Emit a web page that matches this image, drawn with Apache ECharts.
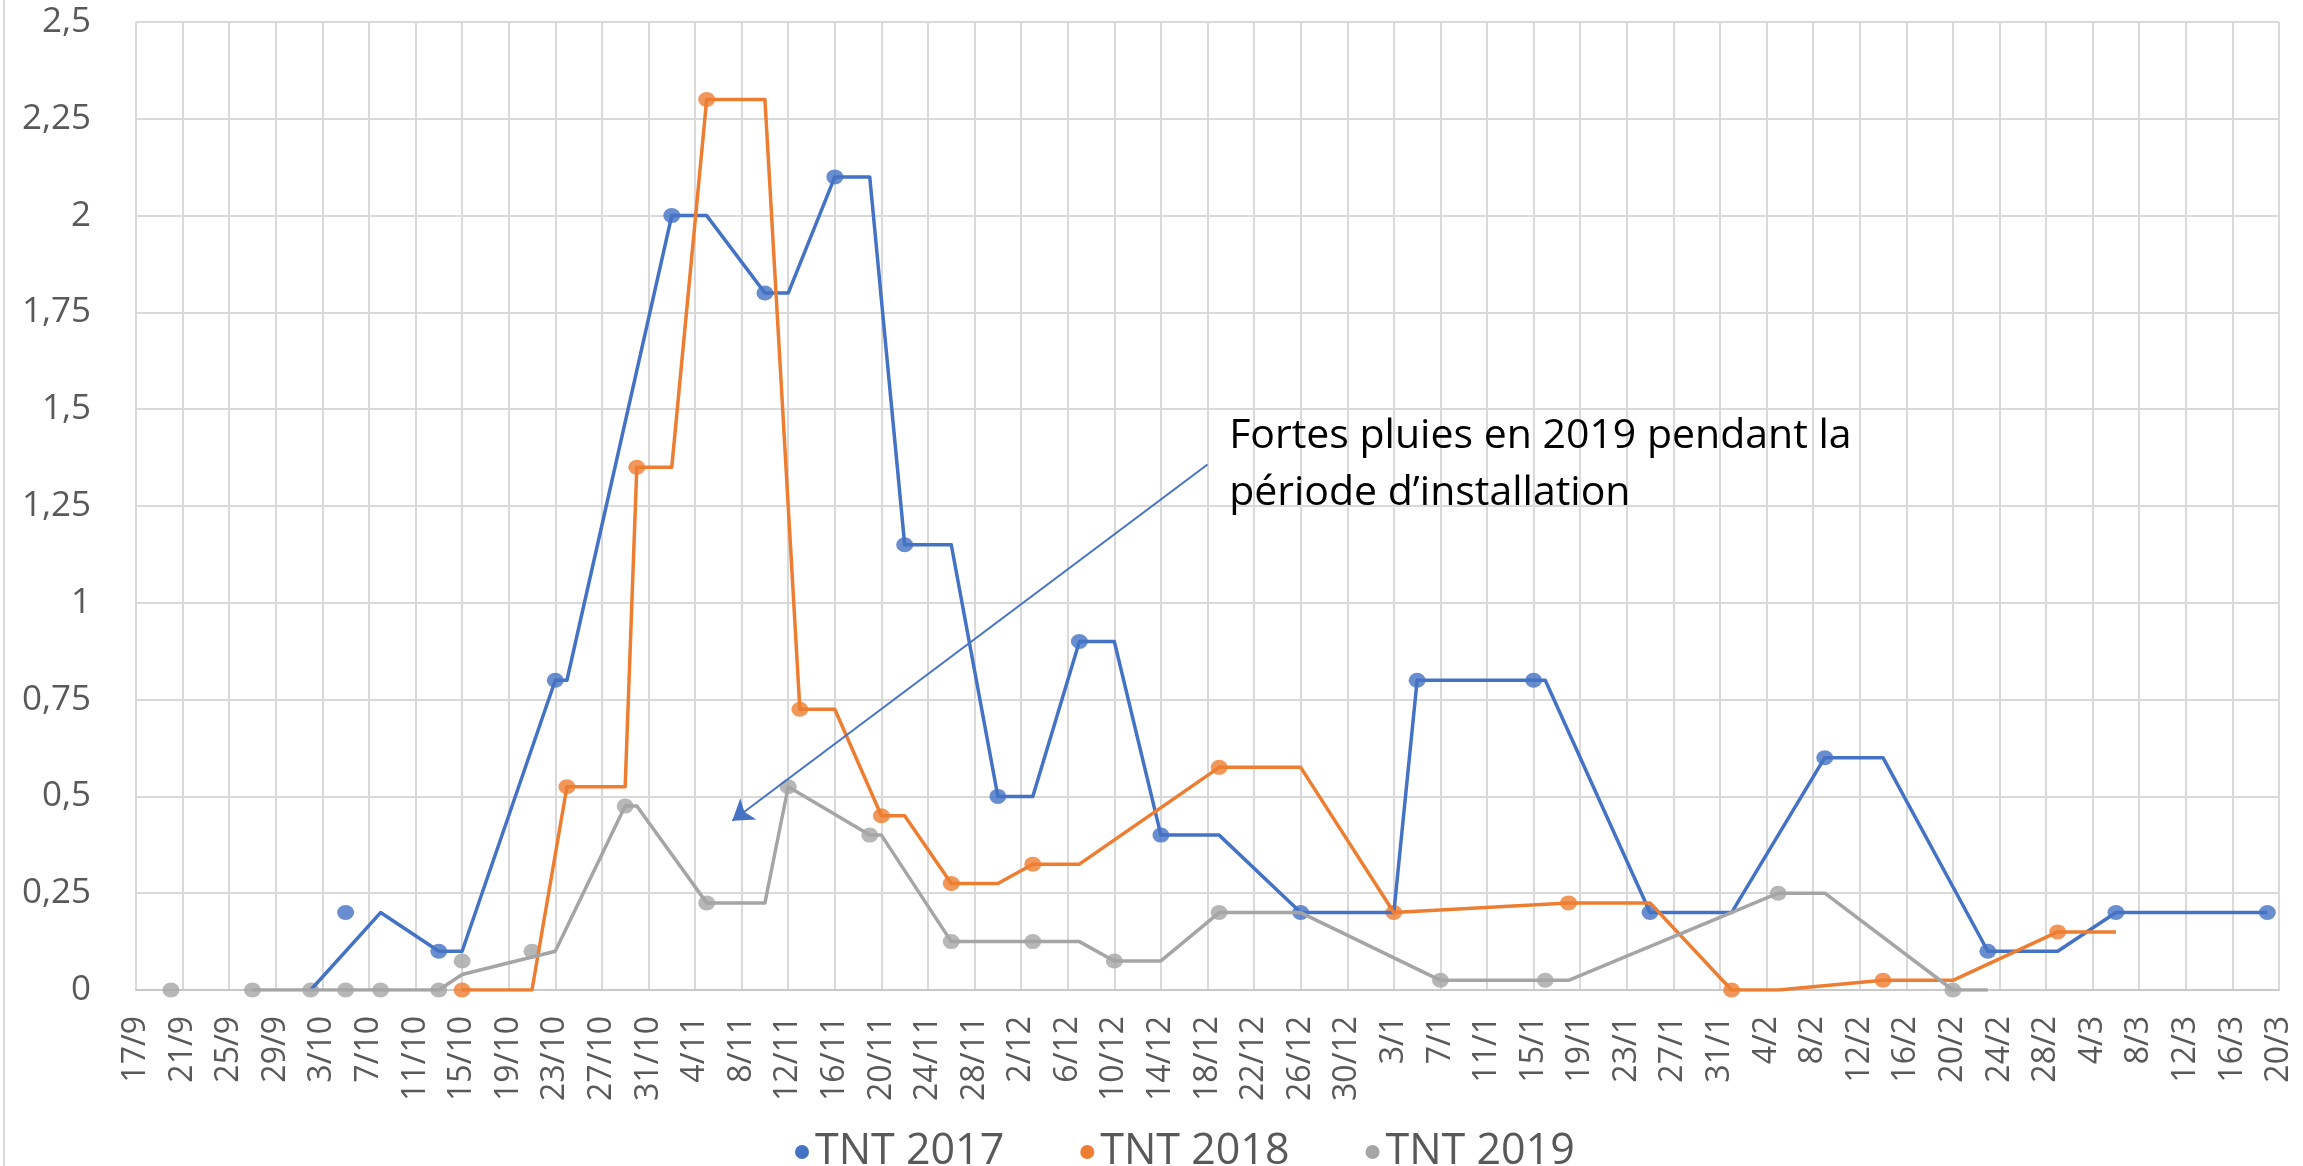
<!DOCTYPE html>
<html>
<head>
<meta charset="utf-8">
<script src="https://cdn.jsdelivr.net/npm/echarts@6/dist/echarts.min.js"></script>
<style>
  html, body { margin: 0; padding: 0; background: #fff; }
  #chart { width: 2303px; height: 1166px; }
</style>
</head>
<body>
<div id="chart"></div>
<script>
// tick labels of the date axis, every 4 days from 17/9 to 20/3
const tickLabels = [
  "17/9", "21/9", "25/9", "29/9", "3/10", "7/10", "11/10", "15/10", "19/10", "23/10",
  "27/10", "31/10", "4/11", "8/11", "12/11", "16/11", "20/11", "24/11", "28/11", "2/12",
  "6/12", "10/12", "14/12", "18/12", "22/12", "26/12", "30/12", "3/1", "7/1", "11/1",
  "15/1", "19/1", "23/1", "27/1", "31/1", "4/2", "8/2", "12/2", "16/2", "20/2",
  "24/2", "28/2", "4/3", "8/3", "12/3", "16/3", "20/3",
];

const seriesNames = ["TNT 2017", "TNT 2018", "TNT 2019"];

// line vertices [date, value]
const tnt2017Line = [
  ["2/10", 0], ["8/10", 0.2], ["13/10", 0.1], ["15/10", 0.1], ["23/10", 0.8], ["24/10", 0.8],
  ["2/11", 2.0], ["5/11", 2.0], ["10/11", 1.8], ["12/11", 1.8], ["16/11", 2.1], ["19/11", 2.1],
  ["22/11", 1.15], ["26/11", 1.15], ["30/11", 0.5], ["3/12", 0.5], ["7/12", 0.9], ["10/12", 0.9],
  ["14/12", 0.4], ["19/12", 0.4], ["26/12", 0.2], ["3/1", 0.2], ["5/1", 0.8], ["16/1", 0.8],
  ["25/1", 0.2], ["1/2", 0.2], ["9/2", 0.6], ["14/2", 0.6], ["23/2", 0.1], ["1/3", 0.1],
  ["6/3", 0.2], ["19/3", 0.2],
];
const tnt2017Marks = [
  ["5/10", 0.2], ["13/10", 0.1], ["23/10", 0.8], ["2/11", 2.0], ["10/11", 1.8], ["16/11", 2.1],
  ["22/11", 1.15], ["30/11", 0.5], ["7/12", 0.9], ["14/12", 0.4], ["26/12", 0.2], ["5/1", 0.8],
  ["15/1", 0.8], ["25/1", 0.2], ["9/2", 0.6], ["23/2", 0.1], ["6/3", 0.2], ["19/3", 0.2],
];

const tnt2018Line = [
  ["15/10", 0], ["21/10", 0], ["24/10", 0.525], ["29/10", 0.525], ["30/10", 1.35], ["2/11", 1.35],
  ["5/11", 2.3], ["10/11", 2.3], ["13/11", 0.725], ["16/11", 0.725], ["20/11", 0.45], ["22/11", 0.45],
  ["26/11", 0.275], ["30/11", 0.275], ["3/12", 0.325], ["7/12", 0.325], ["19/12", 0.575], ["26/12", 0.575],
  ["3/1", 0.2], ["18/1", 0.225], ["25/1", 0.225], ["1/2", 0], ["5/2", 0], ["14/2", 0.025],
  ["20/2", 0.025], ["1/3", 0.15], ["6/3", 0.15],
];
const tnt2018Marks = [
  ["15/10", 0], ["24/10", 0.525], ["30/10", 1.35], ["5/11", 2.3], ["13/11", 0.725], ["20/11", 0.45],
  ["26/11", 0.275], ["3/12", 0.325], ["19/12", 0.575], ["3/1", 0.2], ["18/1", 0.225], ["1/2", 0],
  ["14/2", 0.025], ["1/3", 0.15],
];

const tnt2019Line = [
  ["27/9", 0], ["13/10", 0], ["15/10", 0.04], ["23/10", 0.1], ["29/10", 0.475], ["30/10", 0.475],
  ["5/11", 0.225], ["10/11", 0.225], ["12/11", 0.525], ["19/11", 0.4], ["20/11", 0.4], ["26/11", 0.125],
  ["7/12", 0.125], ["10/12", 0.075], ["14/12", 0.075], ["19/12", 0.2], ["26/12", 0.2], ["7/1", 0.025],
  ["18/1", 0.025], ["5/2", 0.25], ["9/2", 0.25], ["20/2", 0], ["23/2", 0],
];
const tnt2019Marks = [
  ["20/9", 0], ["27/9", 0], ["2/10", 0], ["5/10", 0], ["8/10", 0], ["13/10", 0],
  ["15/10", 0.075], ["21/10", 0.1], ["29/10", 0.475], ["5/11", 0.225], ["12/11", 0.525], ["19/11", 0.4],
  ["26/11", 0.125], ["3/12", 0.125], ["10/12", 0.075], ["19/12", 0.2], ["7/1", 0.025], ["16/1", 0.025],
  ["5/2", 0.25], ["20/2", 0],
];

const annotationText = "Fortes pluies en 2019 pendant la\npériode d’installation";

// days since 17/9 (season axis Sep 2017 – Mar 2018)
function toDay(label) {
  const [d, m] = label.split("/").map(Number);
  const year = m >= 9 ? 2017 : 2018;
  return (Date.UTC(year, m - 1, d) - Date.UTC(2017, 8, 17)) / 86400000;
}

function toPoints(rows) {
  return rows.map(([date, value]) => [toDay(date), value]);
}

const colors = ["#4472C4", "#ED7D31", "#A5A5A5"];
const lines = [tnt2017Line, tnt2018Line, tnt2019Line];
const marks = [tnt2017Marks, tnt2018Marks, tnt2019Marks];
const font = "'Open Sans', sans-serif";

const series = [];
seriesNames.forEach((name, i) => {
  const line = {
    name,
    type: "line",
    data: toPoints(lines[i]),
    showSymbol: false,
    symbol: "none",
    lineStyle: { color: colors[i], width: 3.5, join: "round" },
    itemStyle: { color: colors[i] },
    silent: true,
  };
  if (i === 0) {
    // arrow and text of the annotation, placed in data coordinates
    line.markLine = {
      silent: true,
      symbol: ["none", "arrow"],
      symbolSize: 20,
      label: { show: false },
      lineStyle: { color: "#4472C4", width: 2, type: "solid" },
      data: [[{ coord: [92, 1.357] }, { coord: [51.2, 0.437] }]],
    };
    line.markPoint = {
      silent: true,
      symbol: "circle",
      symbolSize: 1,
      itemStyle: { color: "rgba(0,0,0,0)" },
      label: {
        show: true,
        position: [0, 0],
        align: "left",
        verticalAlign: "top",
        formatter: annotationText,
        color: "#000",
        fontFamily: font,
        fontSize: 41,
        lineHeight: 57,
      },
      data: [{ coord: [93.9, 1.503] }],
    };
  }
  series.push(line);
  series.push({
    name,
    type: "scatter",
    data: toPoints(marks[i]),
    symbol: "circle",
    symbolSize: [17, 15],
    itemStyle: { color: colors[i] },
    silent: true,
  });
});

const chart = echarts.init(document.getElementById("chart"));
chart.setOption({
  animation: false,
  backgroundColor: "#fff",
  color: colors,
  graphic: [
    {
      type: "line",
      shape: { x1: 4, y1: 0, x2: 4, y2: 1166 },
      style: { stroke: "#d9d9d9", lineWidth: 2 },
    },
  ],
  legend: {
    data: seriesNames,
    icon: "circle",
    left: 790,
    top: 1124,
    itemWidth: 14,
    itemHeight: 14,
    itemGap: 76,
    textStyle: {
      color: "#595959",
      fontFamily: font,
      fontSize: 43,
      lineHeight: 46,
      padding: [0, 0, 0, 1],
    },
  },
  grid: {
    left: 136,
    right: 24,
    top: 22,
    bottom: 176,
    containLabel: false,
  },
  xAxis: {
    type: "value",
    min: 0,
    max: 184,
    interval: 4,
    axisLine: { show: true, lineStyle: { color: "#c9c9c9", width: 2 } },
    axisTick: { show: false },
    splitLine: { show: true, lineStyle: { color: "#d9d9d9", width: 2 } },
    axisLabel: {
      rotate: 90,
      margin: 26,
      color: "#595959",
      fontFamily: font,
      fontSize: 32,
      showMinLabel: true,
      showMaxLabel: true,
      hideOverlap: false,
      formatter: (value) => tickLabels[Math.round(value / 4)] || "",
    },
  },
  yAxis: {
    type: "value",
    min: 0,
    max: 2.5,
    interval: 0.25,
    axisLine: { show: false },
    axisTick: { show: false },
    splitLine: { show: true, lineStyle: { color: "#d9d9d9", width: 2 } },
    axisLabel: {
      margin: 45,
      color: "#595959",
      fontFamily: font,
      fontSize: 35,
      formatter: (value) => String(value).replace(".", ","),
    },
  },
  series,
});
</script>
</body>
</html>
